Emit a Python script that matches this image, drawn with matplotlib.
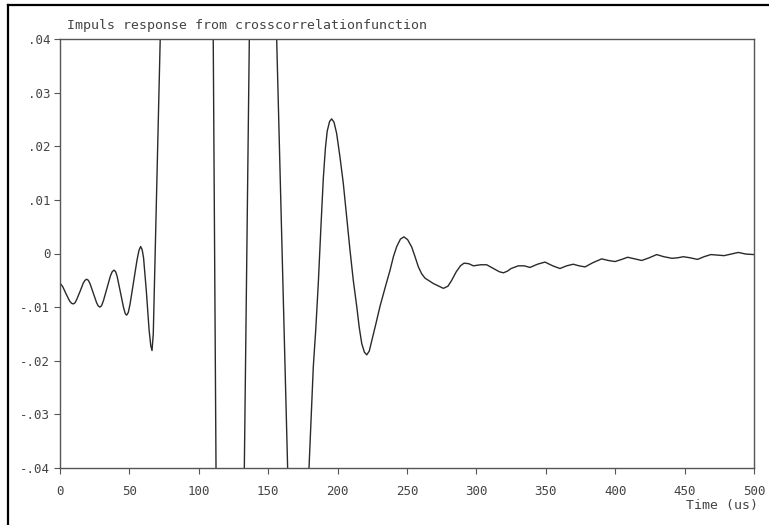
import matplotlib.pyplot as plt
from matplotlib.lines import Line2D
from matplotlib.ticker import FuncFormatter

# time axis (us) and impulse response values
time_us = [0, 2, 4.5, 7, 8.4, 9.6, 10.8, 12, 14.4, 16.8, 18.0, 19.2, 20.4, 21.6,
           24, 26.4, 27.6, 28.8, 30.0, 31.3, 33.8, 36.3, 37.6, 38.9, 40.1, 41.2,
           43.5, 45.8, 47.0, 48.0, 49.2, 50.5, 53, 55.5, 56.9, 58.1, 59.2, 60.2,
           62.2, 64.2, 65.4, 66.3, 67.2, 72.2, 90, 110.4, 112.4, 122, 132.8,
           136.4, 146, 156.1, 164.0, 171.5, 179.4, 182.5, 184.3, 186.1, 187.9,
           189.7, 191.2, 192.5, 194.2, 195.7, 197.4, 199.3, 201.6, 204.1, 206.5,
           208.9, 211.3, 213.8, 215.6, 217.4, 219.3, 221, 222.8, 224.6, 227.5,
           230.5, 234.2, 237.8, 240.2, 242.6, 245.3, 247.8, 250.4, 253.4, 255.8,
           258.2, 260.6, 263, 269, 273, 276.2, 279.5, 282.2, 285.5, 288.5, 291.1,
           294.5, 297.8, 303, 307.4, 313, 316.5, 319.4, 322.3, 325, 330.2, 334.5,
           338.6, 344, 349.4, 355, 360.2, 365, 369.8, 374, 378.3, 384, 390.3,
           395, 399.9, 404.7, 409, 414, 419.1, 424.5, 429.9, 435, 441, 445,
           449.1, 454, 459.3, 464, 468.9, 473.5, 478.5, 483.5, 488.7, 494, 500]
response = [-0.0055, -0.0062, -0.0076, -0.0089, -0.0093, -0.0094, -0.0092, -0.0086,
            -0.0071, -0.0055, -0.0050, -0.0048, -0.0050, -0.0056, -0.0074, -0.0092,
            -0.0098, -0.0100, -0.0097, -0.0088, -0.0065, -0.0042, -0.0034, -0.0031,
            -0.0034, -0.0043, -0.0072, -0.0101, -0.0112, -0.0115, -0.0110, -0.0094,
            -0.0053, -0.0012, 0.0006, 0.0013, 0.0007, -0.0008, -0.0070, -0.0143,
            -0.0172, -0.0181, -0.0150, 0.040, 0.12, 0.040, -0.040, -0.15, -0.040,
            0.040, 0.14, 0.040, -0.040, -0.07, -0.040, -0.0211, -0.0140, -0.0055,
            0.0045, 0.0140, 0.0196, 0.0228, 0.0246, 0.0251, 0.0245, 0.0224, 0.0182,
            0.0131, 0.0068, 0.0007, -0.0050, -0.0099, -0.0138, -0.0168, -0.0184,
            -0.0189, -0.0182, -0.0163, -0.0132, -0.0099, -0.0064, -0.0031, -0.0006,
            0.0013, 0.0027, 0.0031, 0.0026, 0.0012, -0.0006, -0.0025, -0.0038,
            -0.0046, -0.0056, -0.0061, -0.0065, -0.0061, -0.0050, -0.0034, -0.0023,
            -0.0018, -0.0019, -0.0023, -0.0021, -0.0021, -0.0029, -0.0034, -0.0036,
            -0.0033, -0.0028, -0.0023, -0.0023, -0.0026, -0.0020, -0.0016, -0.0023,
            -0.0028, -0.0023, -0.0020, -0.0023, -0.0025, -0.0017, -0.0010, -0.0013,
            -0.0015, -0.0011, -0.0007, -0.0010, -0.0013, -0.0008, -0.0002, -0.0006,
            -0.0009, -0.0008, -0.0006, -0.0008, -0.0011, -0.0006, -0.0002, -0.0003,
            -0.0004, -0.0001, 0.0002, -0.0001, -0.0002]

x_ticks = [0, 50, 100, 150, 200, 250, 300, 350, 400, 450, 500]
y_ticks = [-0.04, -0.03, -0.02, -0.01, 0, 0.01, 0.02, 0.03, 0.04]

plt.rcParams["font.family"] = "DejaVu Sans Mono"
txt_col = "#444444"

fig = plt.figure(figsize=(7.69, 5.25), dpi=100)
W, H = 769, 525
ax = fig.add_axes([60 / W, 1 - 468 / H, (754 - 60) / W, (468 - 39) / H])

ax.plot(time_us, response, color="#2a2a2a", lw=1.0)
ax.set_xlim(0, 500)
ax.set_ylim(-0.04, 0.04)
ax.set_xticks(x_ticks)
ax.set_yticks(y_ticks)


def yfmt(v, pos):
    if abs(v) < 1e-9:
        return "0"
    s = f"{v:.2f}"
    return s.replace("0.", ".")


ax.yaxis.set_major_formatter(FuncFormatter(yfmt))
ax.tick_params(direction="out", length=4, width=0.8, color="#555555",
               labelcolor=txt_col, labelsize=9)
ax.tick_params(axis="x", pad=8)
ax.tick_params(axis="y", pad=3)
for sp in ax.spines.values():
    sp.set_color("#555555")
    sp.set_linewidth(1.0)

fig.text(67 / W, 1 - 26 / H, "Impuls response from crosscorrelationfunction",
         fontsize=9.5, color=txt_col, ha="left", va="center")
fig.text(758 / W, 1 - 505 / H, "Time (us)", fontsize=9.5, color=txt_col,
         ha="right", va="center")

# outer frame (left and top edges)
fig.add_artist(Line2D([8 / W, 8 / W], [0, 1 - 5 / H], color="black", lw=1.6))
fig.add_artist(Line2D([8 / W, 1], [1 - 5 / H, 1 - 5 / H], color="black", lw=1.6))

fig.savefig("out.png", dpi=100)
